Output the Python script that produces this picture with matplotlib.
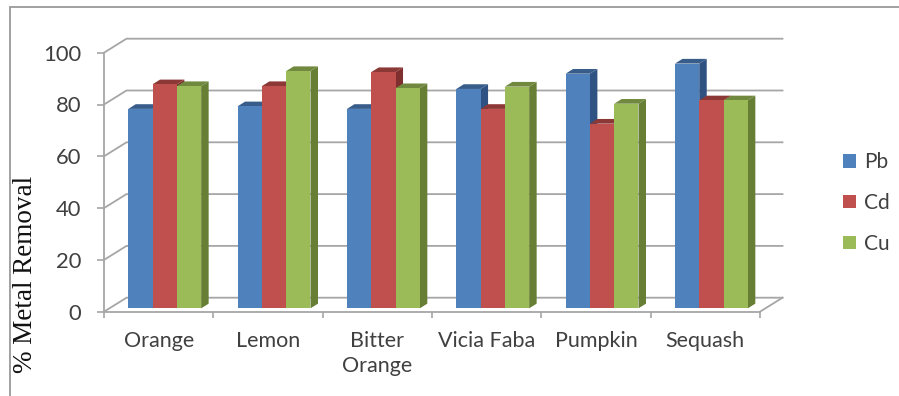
import matplotlib
matplotlib.use("Agg")
import matplotlib.pyplot as plt
from matplotlib.patches import Polygon, Rectangle

categories = ['Orange', 'Lemon', 'Bitter\nOrange', 'Vicia Faba', 'Pumpkin', 'Sequash']
pb = [77, 78, 77, 84.7, 90.6, 94.5]
cd = [86.5, 85.8, 91.2, 77, 71.3, 80.3]
cu = [85.8, 91.6, 85, 85.6, 79, 80.3]
y_ticks = [0, 20, 40, 60, 80, 100]

W, H = 899, 396
# pixels of the front axis
X0, X6, Y0, Y100 = 104.0, 760.0, 311.7, 52.7
PX = (X6 - X0) / 6
PY = (Y0 - Y100) / 100
# depth of the chart walls and of the bars, in data units
WALL_X, WALL_Y = 22.5 / PX, 14 / PY
DEPTH_X, DEPTH_Y = 7.5 / PX, 4.7 / PY
BAR_W, BAR_START, BAR_BASE = 0.2222, 0.222, 1.3

GRID = '#a6a6a6'
TEXT = '#404040'
series = [('Pb', pb, '#4f81bd', '#385d8a', '#2f5282'),
          ('Cd', cd, '#c0504d', '#8c3836', '#7f2f2d'),
          ('Cu', cu, '#9bbb59', '#71893f', '#667f35')]

plt.rcParams['font.family'] = ['Lato', 'DejaVu Sans']
fig = plt.figure(figsize=(W / 100, H / 100), dpi=100)
ax = fig.add_axes([0, 0, 1, 1])
ax.patch.set_visible(False)
ax.set_xlim(-X0 / PX, (W - X0) / PX)
ax.set_ylim(-(H - Y0) / PY, Y0 / PY)

# outer frame of the chart, runs off the picture on the right and the bottom
fig.add_artist(Rectangle((10 / W, -0.1), 1, 1.1 - 7 / H, transform=fig.transFigure,
                         fill=False, ec='#9a9a9a', lw=1.3))

# back wall and side wall
for t in y_ticks:
    ax.plot([0, WALL_X, 6 + WALL_X], [t, t + WALL_Y, t + WALL_Y], color=GRID, lw=1.3, zorder=1)
ax.plot([6, 6 + WALL_X], [0, WALL_Y], color=GRID, lw=1.3, zorder=1)

z = 2
for i in range(len(categories)):
    for j, (name, vals, front, top, side) in enumerate(series):
        x = i + BAR_START + j * BAR_W
        v = vals[i] + BAR_BASE
        ax.add_patch(Polygon([(x + BAR_W, BAR_BASE), (x + BAR_W + DEPTH_X, BAR_BASE + DEPTH_Y),
                              (x + BAR_W + DEPTH_X, v + DEPTH_Y), (x + BAR_W, v)],
                             fc=side, ec='none', zorder=z))
        ax.add_patch(Polygon([(x, v), (x + DEPTH_X, v + DEPTH_Y),
                              (x + BAR_W + DEPTH_X, v + DEPTH_Y), (x + BAR_W, v)],
                             fc=top, ec='none', zorder=z))
        ax.bar(x, vals[i], BAR_W, bottom=BAR_BASE, align='edge', color=front,
               label=name if i == 0 else None, zorder=z + 1)
        z += 2

for s in ['top', 'right']:
    ax.spines[s].set_visible(False)
ax.spines['left'].set_position(('data', 0))
ax.spines['bottom'].set_position(('data', 0))
ax.spines['left'].set_bounds(0, 100)
ax.spines['bottom'].set_bounds(0, 6)
ax.spines['left'].set_color(GRID)
ax.spines['bottom'].set_color(GRID)
ax.spines['left'].set_linewidth(1.3)
ax.spines['bottom'].set_linewidth(1.3)
ax.spines['left'].set_zorder(z)
ax.spines['bottom'].set_zorder(z)

ax.set_yticks(y_ticks)
ax.tick_params(axis='y', length=5, width=1.2, color=GRID, labelsize=15.8, labelcolor=TEXT, pad=11.5)
ax.set_xticks(range(7))
ax.set_xticklabels([])
ax.tick_params(axis='x', which='major', length=4, width=1.2, color=GRID)
ax.set_xticks([i + 0.5 for i in range(6)], categories, minor=True)
ax.tick_params(axis='x', which='minor', length=0, labelsize=15.5, labelcolor=TEXT, pad=14)
for lab in ax.get_xticklabels(minor=True):
    lab.set_linespacing(1.3)

ax.text(26 / W, 1 - 274 / H, '% Metal Removal', transform=fig.transFigure, rotation=90,
        ha='center', va='center', fontsize=19.5, family='Liberation Serif', color='#111111')

ax.legend(loc='center left', bbox_to_anchor=(843 / W, 1 - 203 / H), frameon=False,
          fontsize=15, labelcolor=TEXT, handlelength=0.62, handleheight=0.62,
          handletextpad=0.4, labelspacing=1.0, borderpad=0, borderaxespad=0)

plt.savefig('out.png', dpi=100)
